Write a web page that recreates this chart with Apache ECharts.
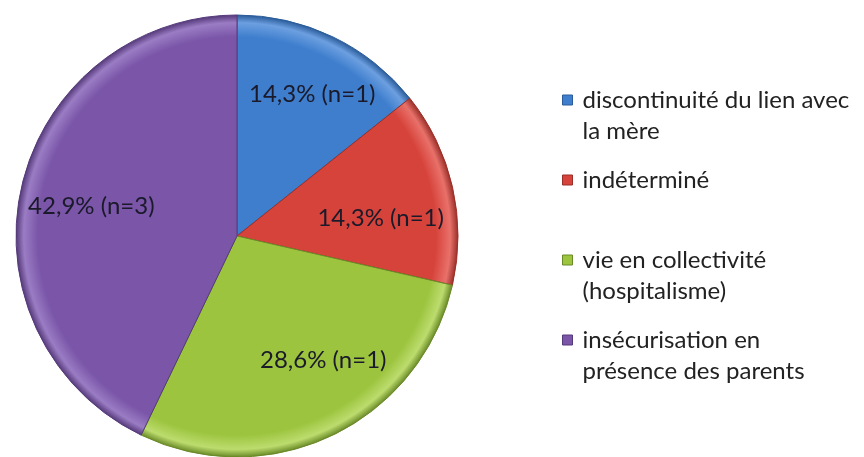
<!DOCTYPE html>
<html>
<head>
<meta charset="utf-8">
<script src="https://cdn.jsdelivr.net/npm/echarts@6/dist/echarts.min.js"></script>
<style>
html,body{margin:0;padding:0;background:#fff;}
#chart{width:864px;height:457px;}
</style>
</head>
<body>
<div id="chart"></div>
<script>
const categories = [
  "discontinuité du lien avec\nla mère",
  "indéterminé",
  "vie en collectivité\n(hospitalisme)",
  "insécurisation en\nprésence des parents"
];
const percents = [14.3, 14.3, 28.6, 42.9];
const counts = [1, 1, 1, 3];
const colors = ["#3e7ecd", "#d6433b", "#9cc43e", "#7a55a8"];
const lights = ["#6c9fe0", "#e8716a", "#bcdc6e", "#9a7cc4"];
const borders = ["#2a5c9a", "#9a2f29", "#6a8a28", "#553a7a"];
const labelOffsets = [[26, -39], [33, 8], [37, 22], [-35, -4]];

const FONT = "Lato";
const FS = 24;
const CX = 237, CY = 236, R = 221;
const chart = echarts.init(document.getElementById('chart'), null, {renderer: 'canvas'});

const data = categories.map((c, i) => ({
  name: c,
  value: percents[i],
  itemStyle: {
    color: {
      type: 'radial', x: CX, y: CY, r: R, global: true,
      colorStops: [
        {offset: 0, color: colors[i]},
        {offset: 0.9, color: colors[i]},
        {offset: 0.965, color: lights[i]},
        {offset: 1, color: borders[i]}
      ]
    },
    borderColor: borders[i],
    borderWidth: 1
  },
  label: {offset: labelOffsets[i]}
}));

const legendTops = [48.5, 159.5, 208.5, 288.5];
const legends = categories.map((c, i) => {
  const twoLine = c.indexOf("\n") >= 0;
  return {
    data: [{name: c, itemStyle: {color: colors[i], borderColor: borders[i], borderWidth: 1}}],
    orient: 'vertical',
    left: 557,
    top: legendTops[i],
    padding: 5,
    icon: 'rect',
    itemWidth: 10,
    itemHeight: 10,
    selectedMode: false,
    formatter: name => {
      const lines = name.split("\n").map(l => '{t|' + l + '}');
      return (twoLine ? '{t| }\n' : '') + lines.join('\n');
    },
    textStyle: {
      fontFamily: FONT,
      fontSize: FS,
      color: '#222',
      lineHeight: 31,
      rich: {
        t: {fontFamily: FONT, fontSize: FS, color: '#222', lineHeight: 31, padding: [0, 0, 0, 5]}
      }
    }
  };
});

chart.setOption({
  animation: false,
  backgroundColor: '#fff',
  legend: legends,
  series: [{
    type: 'pie',
    center: [CX, CY],
    radius: [0, R],
    startAngle: 90,
    clockwise: true,
    data: data,
    label: {
      show: true,
      position: 'inside',
      fontFamily: FONT,
      fontSize: FS,
      color: '#1a1a2a',
      formatter: p => percents[p.dataIndex].toFixed(1).replace('.', ',') + '% (n=' + counts[p.dataIndex] + ')'
    },
    labelLine: {show: false},
    emphasis: {disabled: true}
  }]
});
</script>
</body>
</html>
